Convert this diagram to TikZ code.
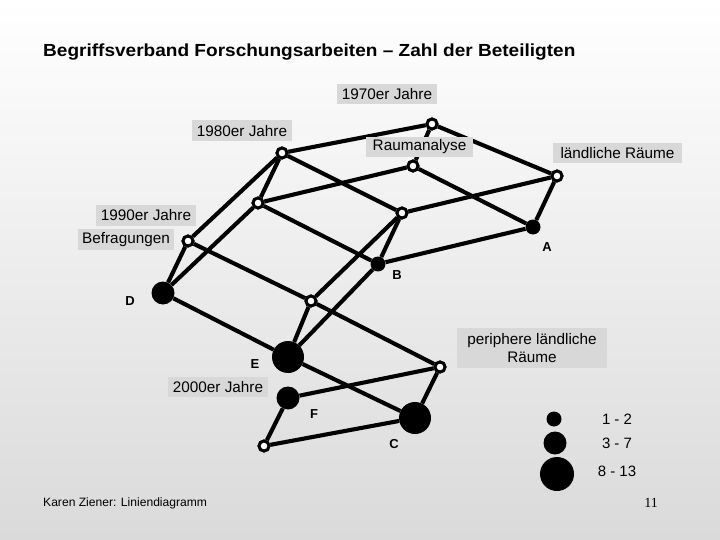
\documentclass[tikz,border=0pt]{standalone}
\usepackage{fontspec}
\setmainfont{Liberation Sans}
\newfontfamily\serifnum{Liberation Serif}
\definecolor{bgbottom}{RGB}{218,218,218}
\definecolor{boxgray}{RGB}{216,216,216}
\begin{document}
\begin{tikzpicture}[x=1pt,y=-1pt,
  edge/.style={line width=4.1pt},
  wn/.style={circle,draw=black,fill=white,line width=2.9pt,inner sep=0pt,minimum size=10pt},
  fsn/.style={circle,fill=black,inner sep=0pt,minimum size=15pt},
  fmn/.style={circle,fill=black,inner sep=0pt,minimum size=23pt},
  fln/.style={circle,fill=black,inner sep=0pt,minimum size=32pt},
  lab/.style={fill=boxgray,inner sep=0pt,align=center,font=\fontsize{15.3}{18}\selectfont},
  letter/.style={font=\bfseries\fontsize{13}{15}\selectfont,inner sep=0pt},
  legtxt/.style={font=\fontsize{15}{17}\selectfont,inner sep=0pt}]
\useasboundingbox (0,0) rectangle (720,540);
\shade[top color=white,bottom color=bgbottom] (0,0) rectangle (720,540);

% title and footer
\node[anchor=base west,inner sep=0pt,font=\bfseries\fontsize{17.5}{20}\selectfont,xscale=1.088] (title) at (43,57) {Begriffsverband Forschungsarbeiten – Zahl der Beteiligten};
\node[anchor=base west,inner sep=0pt,font=\fontsize{12.1}{14}\selectfont] (foot) at (43,506) {Karen Ziener: Liniendiagramm};
\node[anchor=base,inner sep=0pt,font=\serifnum\fontsize{14}{16}\selectfont] (page) at (651,507) {11};

% lattice nodes
\node[wn] (n70) at (432,124) {};
\node[wn] (n80) at (282,153) {};
\node[wn] (nRa) at (413,166) {};
\node[wn] (nLR) at (557,176) {};
\node[wn] (n259) at (258,203) {};
\node[wn] (n403) at (402,213) {};
\node[wn] (nBe) at (188,241) {};
\node[fsn] (nA) at (533,227) {};
\node[fsn] (nB) at (378,264) {};
\node[fmn] (nD) at (163,293) {};
\node[wn] (n312) at (311,301) {};
\node[fln] (nE) at (288,357) {};
\node[wn] (nPe) at (440,367) {};
\node[fmn] (nF) at (288,398) {};
\node[fln] (nC) at (415,418) {};
\node[wn] (nBot) at (264,446) {};

% edges
\draw[edge] (n70) -- (n80);
\draw[edge] (n70) -- (nRa);
\draw[edge] (n70) -- (nLR);
\draw[edge] (n80) -- (n259);
\draw[edge] (n80) -- (nBe);
\draw[edge] (n80) -- (n403);
\draw[edge] (nRa) -- (n259);
\draw[edge] (nRa) -- (nA);
\draw[edge] (nLR) -- (n403);
\draw[edge] (nLR) -- (nA);
\draw[edge] (n259) -- (nB);
\draw[edge] (n259) -- (nD);
\draw[edge] (n403) -- (nB);
\draw[edge] (n403) -- (n312);
\draw[edge] (nA) -- (nB);
\draw[edge] (nBe) -- (nD);
\draw[edge] (nBe) -- (n312);
\draw[edge] (nB) -- (nE);
\draw[edge] (nD) -- (nE);
\draw[edge] (n312) -- (nE);
\draw[edge] (n312) -- (nPe);
\draw[edge] (nE) -- (nC);
\draw[edge] (nPe) -- (nF);
\draw[edge] (nPe) -- (nC);
\draw[edge] (nF) -- (nBot);
\draw[edge] (nBot) -- (nC);

% redraw nodes on top of edges
\node[wn] at (n70) {};
\node[wn] at (n80) {};
\node[wn] at (nRa) {};
\node[wn] at (nLR) {};
\node[wn] at (n259) {};
\node[wn] at (n403) {};
\node[wn] at (nBe) {};
\node[wn] at (n312) {};
\node[wn] at (nPe) {};
\node[wn] at (nBot) {};

% labels
\node[lab,minimum width=100pt,minimum height=20pt] (l70) at (387,94) {1970er Jahre};
\node[lab,minimum width=100pt,minimum height=21pt] (l80) at (242,131) {1980er Jahre};
\node[lab,minimum width=107pt,minimum height=20pt] (lRa) at (419.5,147) {Raumanalyse};
\node[lab,minimum width=129pt,minimum height=20pt] (lLR) at (617.5,153) {ländliche Räume};
\node[lab,minimum width=100pt,minimum height=21pt] (l90) at (146,215.5) {1990er Jahre};
\node[lab,minimum width=96pt,minimum height=21pt] (lBe) at (126,239.5) {Befragungen};
\node[lab,minimum width=150pt,minimum height=40pt,font=\fontsize{15.3}{18.5}\selectfont] (lPe) at (532,348) {periphere ländliche\\Räume};
\node[lab,minimum width=100pt,minimum height=20pt] (l00) at (218,387) {2000er Jahre};

% letters
\node[letter] (tA) at (547,247) {A};
\node[letter] (tB) at (397,275) {B};
\node[letter] (tD) at (130,301) {D};
\node[letter] (tE) at (255,364) {E};
\node[letter] (tF) at (314,414) {F};
\node[letter] (tC) at (394,444) {C};

% legend
\node[fsn] (g1) at (554,419) {};
\node[fmn] (g2) at (555,443) {};
\node[circle,fill=black,inner sep=0pt,minimum size=34pt] (g3) at (557,474) {};
\node[legtxt] (t1) at (617,419) {1 - 2};
\node[legtxt] (t2) at (617,443) {3 - 7};
\node[legtxt] (t3) at (617,471) {8 - 13};
\end{tikzpicture}
\end{document}
